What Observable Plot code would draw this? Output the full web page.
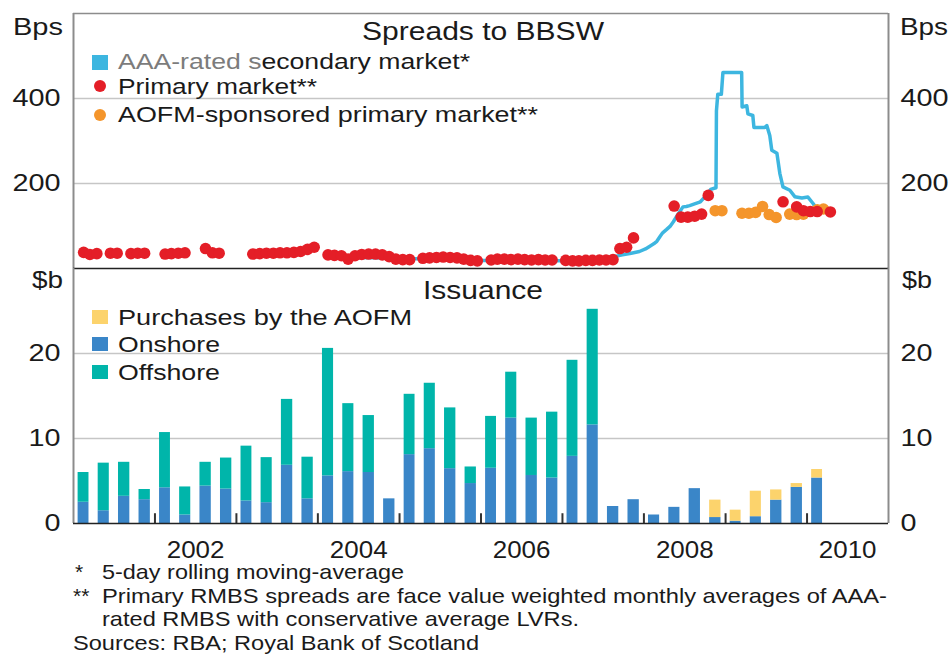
<!DOCTYPE html>
<html>
<head>
<meta charset="utf-8">
<script src="https://cdn.jsdelivr.net/npm/d3@7"></script>
<script src="https://cdn.jsdelivr.net/npm/@observablehq/plot@0.6"></script>
<style>
  html, body { margin: 0; padding: 0; background: #fff; }
  #chart { position: relative; width: 952px; height: 655px; overflow: hidden; background: #fff; }
  #chart svg { position: absolute; left: 0; }
</style>
</head>
<body>
<div id="chart"></div>
<script>
// ---------------- DATA ----------------
const spreadTicks = [200, 400];
const issuanceTicks = [0, 10, 20];
const yearLabels = ["2002", "2004", "2006", "2008", "2010"];
const yearBoundaries = ["2002", "2003", "2004", "2005", "2006", "2007", "2008", "2009", "2010"];

// AAA-rated secondary market spread (5-day rolling average), bps
const aaaDates = [
  "2004-07-01", "2005-01-01", "2005-07-01", "2006-01-01", "2006-07-01", "2007-01-01", "2007-06-01",
  "2007-07-15", "2007-07-31", "2007-08-20", "2007-09-27", "2007-11-05", "2007-12-12", "2008-01-08",
  "2008-01-26", "2008-02-14", "2008-02-28", "2008-03-14", "2008-03-25", "2008-04-12", "2008-04-27",
  "2008-05-12", "2008-05-26", "2008-06-10", "2008-06-24", "2008-07-09", "2008-07-24", "2008-08-15",
  "2008-09-10", "2008-09-24", "2008-10-08", "2008-10-26", "2008-11-19", "2008-11-21", "2008-11-27",
  "2008-12-13", "2008-12-20", "2009-03-14", "2009-03-16", "2009-04-06", "2009-04-11", "2009-05-03",
  "2009-05-08", "2009-06-26", "2009-07-05", "2009-07-18", "2009-07-27", "2009-08-19", "2009-09-01",
  "2009-09-15", "2009-10-16", "2009-11-07", "2009-12-09", "2010-01-05", "2010-01-28", "2010-02-14"
];
const aaaBps = [
  26, 24, 21, 19, 19, 18, 18,
  19, 22, 28, 32, 36, 40, 46,
  52, 58, 64, 76, 84, 92, 99,
  110, 122, 134, 145, 146, 148, 152,
  157, 165, 173, 186, 190, 371, 410,
  410, 461, 461, 380, 383, 364, 360,
  332, 332, 336, 313, 278, 271, 224,
  192, 184, 169, 166, 168, 153, 140
];

// Primary market spreads (monthly), bps
const primaryMonths = [
  "2001-02", "2001-03", "2001-04", "2001-06", "2001-07", "2001-09", "2001-10", "2001-11",
  "2002-02", "2002-03", "2002-04", "2002-05", "2002-08", "2002-09", "2002-10",
  "2003-03", "2003-04", "2003-05", "2003-06", "2003-07", "2003-08", "2003-09", "2003-10", "2003-11", "2003-12",
  "2004-02", "2004-03", "2004-04", "2004-05", "2004-06", "2004-07", "2004-08", "2004-09", "2004-10", "2004-11", "2004-12",
  "2005-01", "2005-02", "2005-04", "2005-05", "2005-06", "2005-07", "2005-08", "2005-09", "2005-10", "2005-11", "2005-12",
  "2006-02", "2006-03", "2006-04", "2006-05", "2006-06", "2006-07", "2006-08", "2006-09", "2006-10", "2006-11",
  "2007-01", "2007-02", "2007-03", "2007-04", "2007-05", "2007-06", "2007-07", "2007-08", "2007-09", "2007-10", "2007-11",
  "2008-05", "2008-06", "2008-07", "2008-08", "2008-09", "2008-10",
  "2009-09", "2009-11", "2009-12", "2010-01", "2010-02", "2010-04"
];
const primaryBps = [
  38, 33, 35, 36, 36, 35, 36, 36,
  34, 35, 36, 37, 47, 37, 36,
  34, 35, 36, 36, 37, 37, 38, 40, 45, 50,
  32, 31, 30, 22, 30, 33, 34, 34, 32, 28, 22,
  21, 21, 24, 25, 26, 27, 26, 25, 22, 19, 18,
  20, 22, 22, 21, 22, 21, 20, 21, 20, 20,
  19, 18, 18, 19, 19, 20, 20, 21, 47, 50, 72,
  147, 121, 121, 123, 128, 172,
  157, 145, 136, 134, 134, 133
];

// AOFM-sponsored primary market spreads (monthly), bps
const aofmSpMonths = [
  "2008-11", "2008-12", "2009-03", "2009-04", "2009-05", "2009-06", "2009-07",
  "2009-08", "2009-10", "2009-11", "2009-12", "2010-02", "2010-03"
];
const aofmSpBps = [136, 136, 130, 130, 132, 146, 127, 120, 128, 127, 128, 138, 140];

// Issuance by quarter, $b
const quarters = [
  "2001-Q1", "2001-Q2", "2001-Q3", "2001-Q4", "2002-Q1", "2002-Q2", "2002-Q3", "2002-Q4",
  "2003-Q1", "2003-Q2", "2003-Q3", "2003-Q4", "2004-Q1", "2004-Q2", "2004-Q3", "2004-Q4",
  "2005-Q1", "2005-Q2", "2005-Q3", "2005-Q4", "2006-Q1", "2006-Q2", "2006-Q3", "2006-Q4",
  "2007-Q1", "2007-Q2", "2007-Q3", "2007-Q4", "2008-Q1", "2008-Q2", "2008-Q3", "2008-Q4",
  "2009-Q1", "2009-Q2", "2009-Q3", "2009-Q4", "2010-Q1"
];
const onshore = [
  2.5, 1.5, 3.2, 2.8, 4.2, 1.0, 4.4, 4.05,
  2.65, 2.45, 6.85, 2.9, 5.6, 6.1, 6.0, 2.9,
  8.1, 8.8, 6.45, 4.7, 6.5, 12.4, 5.65, 5.35,
  7.9, 11.6, 2.0, 2.8, 1.0, 1.9, 4.1, 0.7,
  0.27, 0.8, 2.75, 4.25, 5.35
];
const offshore = [
  3.5, 5.6, 4.0, 1.2, 6.5, 3.3, 2.8, 3.65,
  6.45, 5.3, 7.75, 4.9, 15.0, 8.0, 6.7, 0,
  7.1, 7.7, 7.15, 1.95, 6.1, 5.4, 6.75, 7.75,
  11.3, 13.6, 0, 0, 0, 0, 0, 0,
  0, 0, 0, 0, 0
];
const aofmPurchases = [
  0, 0, 0, 0, 0, 0, 0, 0,
  0, 0, 0, 0, 0, 0, 0, 0,
  0, 0, 0, 0, 0, 0, 0, 0,
  0, 0, 0, 0, 0, 0, 0, 2.05,
  1.3, 3.0, 1.2, 0.45, 1.0
];
const seriesNames = ["Onshore", "Offshore", "Purchases by the AOFM"];
const seriesColors = ["#3a86c8", "#00b5aa", "#fcd36c"];

// ---------------- BUILD ----------------
const FONT = '"Liberation Sans", Arial, Helvetica, sans-serif';
const INK = "#1a1a1a";
const parseDay = d3.utcParse("%Y-%m-%d");
const parseMonth = d3.utcParse("%Y-%m");
const midMonth = m => new Date(+parseMonth(m) + 14.5 * 864e5);

const aaa = aaaDates.map((d, i) => ({date: parseDay(d), value: aaaBps[i]}));
const primary = primaryMonths.map((m, i) => ({date: midMonth(m), value: primaryBps[i]}));
const aofmSp = aofmSpMonths.map((m, i) => ({date: midMonth(m), value: aofmSpBps[i]}));

const qStart = q => { const [y, n] = q.split("-Q").map(Number); return new Date(Date.UTC(y, (n - 1) * 3, 1)); };
const bars = [];
quarters.forEach((q, i) => {
  const s = qStart(q), e = d3.utcMonth.offset(s, 3);
  [onshore[i], offshore[i], aofmPurchases[i]].forEach((v, k) => {
    if (v > 0) bars.push({start: s, end: e, series: seriesNames[k], value: v});
  });
});

const xDomain = [new Date(Date.UTC(2001, 0, 1)), new Date(Date.UTC(2011, 0, 1))];
const yearTicks = yearBoundaries.map(y => new Date(Date.UTC(+y, 0, 1)));
const yearMid = yearLabels.map(y => new Date(Date.UTC(+y, 6, 2)));

const baseStyle = {fontFamily: FONT, fontSize: "24px", color: INK, background: "transparent", overflow: "visible"};
const frameGray = "#8c8c8c";

const topPlot = Plot.plot({
  width: 952, height: 268,
  marginLeft: 73, marginRight: 64, marginTop: 13, marginBottom: 0,
  style: baseStyle,
  x: {type: "utc", domain: xDomain, axis: null},
  y: {domain: [0, 600], label: null},
  marks: [
    Plot.ruleY(spreadTicks, {stroke: "#c6c6c6", strokeWidth: 1.3}),
    Plot.axisY(spreadTicks, {anchor: "left", tickSize: 0, tickPadding: 13, label: null, fontSize: 24}),
    Plot.axisY(spreadTicks, {anchor: "right", tickSize: 0, tickPadding: 12, label: null, fontSize: 24}),
    Plot.line(aaa, {x: "date", y: "value", stroke: "#3db6e0", strokeWidth: 3.5}),
    Plot.dot(aofmSp, {x: "date", y: "value", r: 5.8, fill: "#f4952b"}),
    Plot.dot(primary, {x: "date", y: "value", r: 5.8, fill: "#e41e27"}),
    Plot.ruleX(xDomain, {stroke: frameGray, strokeWidth: 2}),
    Plot.ruleY([600], {stroke: frameGray, strokeWidth: 1.5}),
    Plot.ruleY([0], {stroke: "#222", strokeWidth: 1.6})
  ]
});

const bottomPlot = Plot.plot({
  width: 952, height: 387,
  marginLeft: 73, marginRight: 64, marginTop: 0, marginBottom: 132,
  style: baseStyle,
  x: {type: "utc", domain: xDomain},
  y: {domain: [0, 30], label: null},
  color: {domain: seriesNames, range: seriesColors},
  marks: [
    Plot.ruleY([10, 20], {stroke: "#c6c6c6", strokeWidth: 1.3}),
    Plot.axisY(issuanceTicks, {anchor: "left", tickSize: 0, tickPadding: 13, label: null, fontSize: 24}),
    Plot.axisY(issuanceTicks, {anchor: "right", tickSize: 0, tickPadding: 12, label: null, fontSize: 24}),
    Plot.rectY(bars, {x1: "start", x2: "end", y: "value", fill: "series", order: seriesNames, insetLeft: 4.6, insetRight: 4.6}),
    Plot.ruleX(yearTicks, {y1: 0, y2: 1.15, stroke: "#333", strokeWidth: 2}),
    Plot.axisX(yearMid, {tickSize: 0, tickPadding: 17, label: null, fontSize: 24, tickFormat: d => String(d.getUTCFullYear())}),
    Plot.ruleX(xDomain, {stroke: frameGray, strokeWidth: 2}),
    Plot.ruleY([0], {stroke: "#222", strokeWidth: 1.6})
  ]
});

const root = document.getElementById("chart");
topPlot.style.top = "0px";
bottomPlot.style.top = "268px";
root.appendChild(topPlot);
root.appendChild(bottomPlot);

function stretch(svg, selector, k) {
  svg.querySelectorAll(selector).forEach(t => {
    const L = t.getComputedTextLength();
    t.setAttribute("textLength", (L * k).toFixed(1));
    t.setAttribute("lengthAdjust", "spacingAndGlyphs");
  });
}
[topPlot, bottomPlot].forEach(svg => stretch(svg, 'g[aria-label="y-axis tick label"] text', 1.2));
stretch(bottomPlot, 'g[aria-label="x-axis tick label"] text', 1.08);

function addText(svg, o) {
  const t = d3.select(svg).append("text")
    .attr("x", o.x).attr("y", o.y)
    .attr("font-family", FONT).attr("font-size", o.size)
    .attr("text-anchor", o.anchor || "start")
    .attr("fill", o.fill || INK);
  if (o.parts) o.parts.forEach(p => t.append("tspan").attr("fill", p.fill).text(p.text));
  else t.text(o.text);
  if (o.width) t.attr("textLength", o.width).attr("lengthAdjust", "spacingAndGlyphs");
  return t;
}

// Top panel texts and legend
addText(topPlot, {x: 63, y: 35, text: "Bps", size: 24, anchor: "end", width: 50});
addText(topPlot, {x: 900, y: 35, text: "Bps", size: 24, width: 48});
addText(topPlot, {x: 483, y: 40, text: "Spreads to BBSW", size: 25, anchor: "middle", width: 242});
const tg = d3.select(topPlot);
tg.append("rect").attr("x", 92).attr("y", 55).attr("width", 16).attr("height", 15).attr("fill", "#3db6e0");
addText(topPlot, {x: 118, y: 69, size: 22, width: 352,
  parts: [{text: "AAA-rated s", fill: "#7c7c7c"}, {text: "econdary market*", fill: INK}]});
tg.append("circle").attr("cx", 100).attr("cy", 86).attr("r", 6).attr("fill", "#e41e27");
addText(topPlot, {x: 118, y: 94, text: "Primary market**", size: 22, width: 199});
tg.append("circle").attr("cx", 100).attr("cy", 115).attr("r", 6).attr("fill", "#f4952b");
addText(topPlot, {x: 118, y: 122, text: "AOFM-sponsored primary market**", size: 22, width: 420});

// Bottom panel texts and legend
addText(bottomPlot, {x: 63, y: 20, text: "$b", size: 24, anchor: "end", width: 31});
addText(bottomPlot, {x: 902, y: 20, text: "$b", size: 24, width: 30});
addText(bottomPlot, {x: 483, y: 31, text: "Issuance", size: 25, anchor: "middle", width: 120});
const bg = d3.select(bottomPlot);
const legendRows = [
  {name: "Purchases by the AOFM", color: seriesColors[2], y: 42, base: 57, width: 294},
  {name: "Onshore", color: seriesColors[0], y: 69, base: 84, width: 102},
  {name: "Offshore", color: seriesColors[1], y: 97, base: 112, width: 102}
];
legendRows.forEach(r => {
  bg.append("rect").attr("x", 92).attr("y", r.y).attr("width", 16).attr("height", 14).attr("fill", r.color);
  addText(bottomPlot, {x: 118, y: r.base, text: r.name, size: 22, width: r.width});
});

// Footnotes
addText(bottomPlot, {x: 75, y: 311, text: "*", size: 21});
addText(bottomPlot, {x: 102, y: 311, text: "5-day rolling moving-average", size: 21, width: 302});
addText(bottomPlot, {x: 73, y: 335, text: "**", size: 21});
addText(bottomPlot, {x: 102, y: 335, text: "Primary RMBS spreads are face value weighted monthly averages of AAA-", size: 21, width: 785});
addText(bottomPlot, {x: 102, y: 358, text: "rated RMBS with conservative average LVRs.", size: 21, width: 477});
addText(bottomPlot, {x: 73, y: 382, text: "Sources: RBA; Royal Bank of Scotland", size: 21, width: 406});
</script>
</body>
</html>
